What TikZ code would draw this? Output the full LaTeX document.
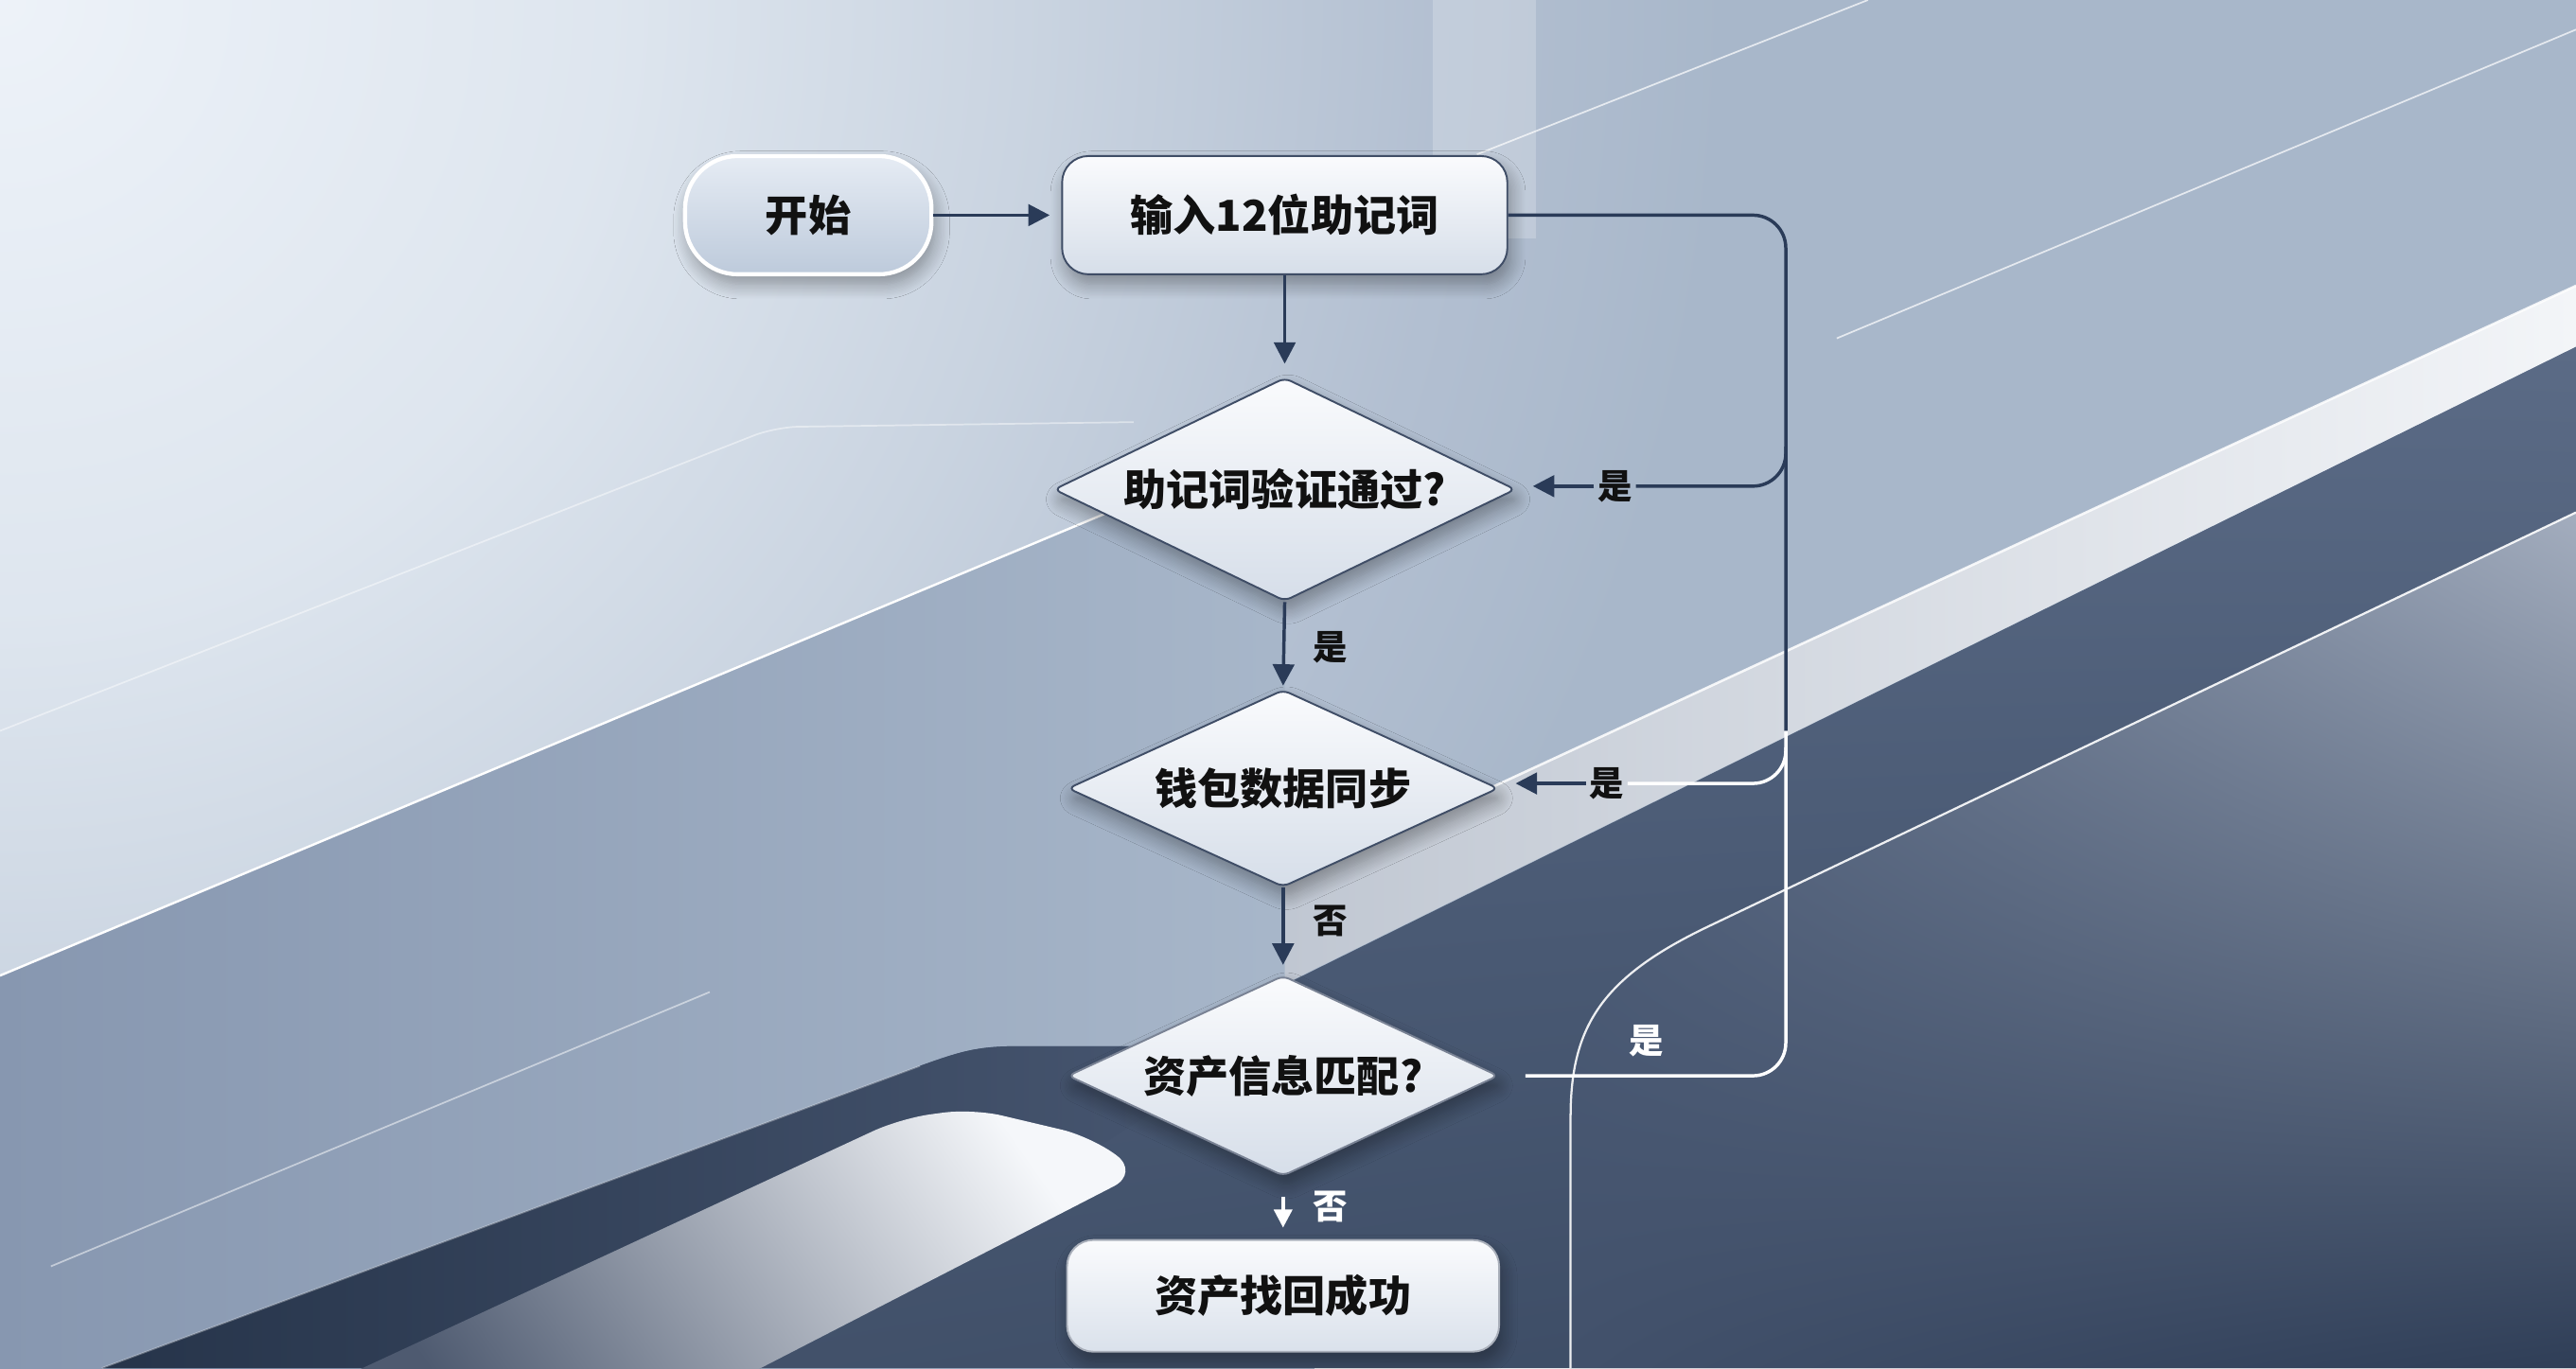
\documentclass[tikz,border=0pt]{standalone}
\usepackage{fontspec}
\setmainfont{Noto Sans CJK SC}
\usetikzlibrary{arrows.meta,shapes.geometric,shadows,shadows.blur,shadings}

\definecolor{navy}{HTML}{2A3B58}
\definecolor{inkc}{HTML}{111111}
\definecolor{midbg}{HTML}{A8B7CA}
\definecolor{bgA}{HTML}{8797B0}
\definecolor{dUL}{HTML}{576884}
\definecolor{dUR}{HTML}{5B6B86}
\definecolor{dLL}{HTML}{45546D}
\definecolor{dLR}{HTML}{394962}
\definecolor{kL}{HTML}{26344A}
\definecolor{kR}{HTML}{46556F}
\definecolor{wT}{HTML}{F5F7FA}
\definecolor{wB}{HTML}{4E5A70}
\definecolor{rUL}{HTML}{53637E}
\definecolor{rUR}{HTML}{A3ADBE}
\definecolor{rLL}{HTML}{42516B}
\definecolor{rLR}{HTML}{2F3E57}
\definecolor{bL}{HTML}{C0C7D2}
\definecolor{bR}{HTML}{F3F5F8}
\definecolor{boxT}{HTML}{FAFBFD}
\definecolor{boxB}{HTML}{D6DEE9}
\definecolor{startT}{HTML}{E6ECF4}
\definecolor{startB}{HTML}{BDCADB}
\definecolor{boxline}{HTML}{3F4D66}
\definecolor{shadowc}{HTML}{1E2B42}

\pgfdeclareradialshading{glow}{\pgfpoint{0bp}{0bp}}{rgb(0bp)=(0.93,0.95,0.975); rgb(9bp)=(0.87,0.9,0.935); rgb(15bp)=(0.79,0.83,0.88); rgb(21bp)=(0.70,0.75,0.82); rgb(25bp)=(0.659,0.718,0.792); rgb(50bp)=(0.659,0.718,0.792)}

\tikzset{
  nodefont/.style={font=\bfseries\fontsize{26}{31}\selectfont, text=inkc},
  labfont/.style={font=\bfseries\fontsize{21}{25}\selectfont, inner sep=2pt},
  softshadow/.style={blur shadow={shadow xshift=2pt, shadow yshift=-6pt, shadow blur radius=9pt, shadow opacity=35, shadow blur steps=12}},
  startbox/.style={nodefont, rounded corners=32pt, minimum width=150pt, minimum height=72pt,
    draw=white, line width=2.5pt, top color=startT, bottom color=startB, softshadow},
  procbox/.style={nodefont, rounded corners=16pt, minimum width=271pt, minimum height=72pt,
    draw=boxline, line width=1.1pt, top color=boxT, bottom color=boxB, softshadow},
  decision/.style={nodefont, diamond, aspect=2.1, inner sep=0pt, rounded corners=4pt,
    draw=boxline, line width=1.1pt, top color=boxT, bottom color=boxB, softshadow},
  flow/.style={draw=navy, line width=2pt},
  wflow/.style={draw=white, line width=2pt},
  flowarrow/.style={flow, -{Triangle[length=13pt,width=13pt]}},
  warrow/.style={wflow, -{Triangle[length=11pt,width=11pt]}},
}

\begin{document}
\begin{tikzpicture}[x=1pt,y=-1pt]
\useasboundingbox (0,0) rectangle (1568,833);

% ---------- background ----------
\shade[left color=bgA, right color=midbg] (0,0) rectangle (800,833);
\fill[midbg] (800,0) rectangle (1568,833);

\begin{scope}
  \clip (0,0) -- (1568,0) -- (1568,176) -- (898,484) -- (800,525) -- (782,520)
        -- (782,350) -- (672,313) -- (0,594) -- cycle;
  \fill[midbg] (0,0) rectangle (1568,833);
  \shade[shading=glow] (0,0) circle (1050pt);
\end{scope}

% dark lower region
\shade[upper left=dUL, upper right=dUR, lower left=dLL, lower right=dLR]
  (62,833) -- (560,649) .. controls (585,640) and (595,637) .. (620,637)
  -- (700,637) -- (781,600) -- (1568,211) -- (1568,833) -- cycle;
% darkest strip
\shade[left color=kL, right color=kR]
  (62,833) -- (560,649) .. controls (585,640) and (595,637) .. (620,637)
  -- (689,637) -- (715,668) -- (463,833) -- cycle;
% white swoosh
\shade[top color=wT, bottom color=wB, shading angle=-55, rounded corners=18pt]
  (184,850) -- (548,681) -- (592,675) -- (664,692) -- (694,714) -- (430,850) -- cycle;
% lighter right region beyond the thin line
\shade[upper left=rUL, upper right=rUR, lower left=rLL, lower right=rLR]
  (1568,312) -- (1040,564) .. controls (975,595) and (956,625) .. (956,680)
  -- (956,833) -- (1568,833) -- cycle;
% light diagonal band
\shade[left color=bL, right color=bR]
  (1568,174) -- (898,484) -- (800,525) -- (782,520) -- (782,599) -- (1568,211) -- cycle;

% decorative lines
\draw[white, line width=1.5pt, opacity=0.85] (1568,174) -- (898,484);
\draw[white, line width=1.4pt] (0,594) -- (672,313);
\draw[white, line width=1pt, opacity=0.45, rounded corners=14pt] (0,445) -- (472,260) -- (690,257);
\draw[white, line width=1pt, opacity=0.5] (31,771) -- (432,604);
\draw[white, line width=1pt, opacity=0.3] (62,833) -- (560,649);
\draw[white, line width=1pt, opacity=0.7] (899,94) -- (1137,0);
\draw[white, line width=1pt, opacity=0.7] (1118,206) -- (1568,18);
\draw[white, line width=1.3pt, opacity=0.9]
  (1568,312) -- (1040,564) .. controls (975,595) and (956,625) .. (956,680) -- (956,833);
\fill[white, opacity=0.22] (872,0) rectangle (935,145);

% ---------- nodes ----------
\node[startbox] (start) at (492,131) {开始};
\node[procbox] (in) at (782,131) {输入12位助记词};
\node[decision, minimum width=281pt, minimum height=136pt] (d1) at (782,298) {助记词验证通过?};
\node[decision, minimum width=262pt, minimum height=120pt] (d2) at (781,480) {钱包数据同步};
\node[decision, minimum width=262pt, minimum height=122pt, draw=boxline!70!white] (d3) at (781,655) {资产信息匹配?};
\node[procbox, minimum width=263pt, minimum height=68pt, draw=boxline!45!white, bottom color=boxB!90!white] (fin) at (781,789) {资产找回成功};

% labels
\node[labfont, text=inkc] (y1) at (983,296) {是};
\node[labfont, text=inkc] (y2) at (978,477) {是};
\node[labfont, text=white] (y3) at (1002,634) {是};
\node[labfont, text=inkc] (l12) at (810,394) {是};
\node[labfont, text=inkc] (l23) at (810,561) {否};
\node[labfont, text=white] (l3f) at (810,735) {否};

% rail coordinates
\coordinate (rT) at (1087,131);
\coordinate (rS) at (1087,445);
\coordinate (rB) at (1087,655);
\coordinate (b1a) at (1087,272);
\coordinate (b1) at (1087,296);
\coordinate (b2a) at (1087,455);
\coordinate (b2) at (1087,477);
\coordinate (d3x) at ([xshift=16pt]d3.east);

% ---------- connectors ----------
\draw[flowarrow, shorten >=7pt] (start.east) -- (in.west);
\draw[flowarrow, shorten >=8pt] (in.south) -- (d1.north);
\draw[flowarrow, shorten >=2pt] (d1.south) -- (d2.north);
\draw[flowarrow, shorten >=6pt] (d2.south) -- (d3.north);
\draw[warrow, shorten <=12pt, shorten >=7pt] (d3.south) -- (fin.north);

\draw[flow, rounded corners=20pt] (in.east) -- (rT) -- (rS);
\draw[wflow, rounded corners=20pt] (rS) -- (rB) -- (d3x);
\draw[flow, rounded corners=20pt] (b1a) -- (b1) -- (y1.east);
\draw[flowarrow, shorten >=10pt] (y1.west) -- (y1.west -| d1.east);
\draw[wflow, rounded corners=20pt] (b2a) -- (b2) -- (y2.east);
\draw[flowarrow, shorten >=10pt] (y2.west) -- (y2.west -| d2.east);
\end{tikzpicture}
\end{document}
